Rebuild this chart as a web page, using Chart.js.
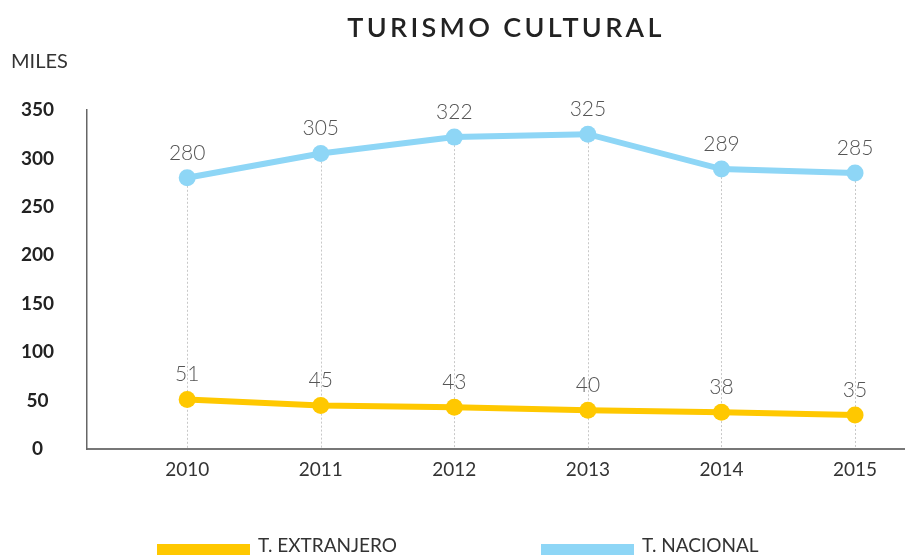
<!DOCTYPE html>
<html>
<head>
<meta charset="utf-8">
<script src="https://cdn.jsdelivr.net/npm/chart.js@4/dist/chart.umd.min.js"></script>
<style>
  html, body { margin: 0; padding: 0; background: #fff; }
  #wrap { width: 905px; height: 556px; position: relative; }
</style>
</head>
<body>
<div id="wrap"><canvas id="turismoChart"></canvas></div>
<script>
const years = [2010, 2011, 2012, 2013, 2014, 2015];
const extranjero = [51, 45, 43, 40, 38, 35];
const nacional = [280, 305, 322, 325, 289, 285];
const yTicks = [0, 50, 100, 150, 200, 250, 300, 350];

const titleText = 'TURISMO CULTURAL';
const unitText = 'MILES';
const seriesNames = ['T. EXTRANJERO', 'T. NACIONAL'];
const yellow = '#FFC800';
const blue = '#8ED6F6';
const FONT = 'Lato, "Open Sans", sans-serif';

// dotted drop lines from the top point of each year down to the axis
const dropLines = {
  id: 'dropLines',
  beforeDatasetsDraw(chart) {
    const ctx = chart.ctx;
    const bottom = chart.chartArea.bottom;
    ctx.save();
    ctx.strokeStyle = '#c8c8c8';
    ctx.lineWidth = 1;
    ctx.setLineDash([2, 2]);
    years.forEach((yr, i) => {
      let top = bottom;
      let x = null;
      chart.data.datasets.forEach((ds, d) => {
        const el = chart.getDatasetMeta(d).data[i];
        if (el) { top = Math.min(top, el.y); x = el.x; }
      });
      if (x === null) return;
      ctx.beginPath();
      ctx.moveTo(Math.round(x) + 0.5, top);
      ctx.lineTo(Math.round(x) + 0.5, bottom);
      ctx.stroke();
    });
    ctx.restore();
  }
};

// value labels above each point
const valueLabels = {
  id: 'valueLabels',
  afterDatasetsDraw(chart) {
    const ctx = chart.ctx;
    ctx.save();
    ctx.font = '300 21px ' + FONT;
    ctx.fillStyle = '#555';
    ctx.textAlign = 'center';
    ctx.textBaseline = 'middle';
    chart.data.datasets.forEach((ds, d) => {
      chart.getDatasetMeta(d).data.forEach((el, i) => {
        ctx.fillText(String(ds.data[i].y), el.x, el.y - 25);
      });
    });
    ctx.restore();
  }
};

// title, unit label and the legend along the bottom
const decorations = {
  id: 'decorations',
  afterDraw(chart) {
    const ctx = chart.ctx;
    ctx.save();
    ctx.fillStyle = '#222';
    ctx.textBaseline = 'middle';
    ctx.font = '600 27px ' + FONT;
    ctx.letterSpacing = '3.3px';
    ctx.textAlign = 'center';
    ctx.fillText(titleText, 506, 28);
    ctx.letterSpacing = '0px';

    ctx.font = '20px ' + FONT;
    ctx.fillStyle = '#333';
    ctx.textAlign = 'left';
    ctx.fillText(unitText, 11, 62);

    const legendX = [157, 541];
    chart.data.datasets.forEach((ds, d) => {
      const x = legendX[d];
      ctx.fillStyle = ds.borderColor;
      ctx.fillRect(x, 544, 93, 11);
      ctx.fillStyle = '#333';
      ctx.font = '19px ' + FONT;
      ctx.fillText(ds.label, x + 101, 546);
    });
    ctx.restore();
  }
};

const chart = new Chart(document.getElementById('turismoChart'), {
  type: 'line',
  data: {
    datasets: [
      {
        label: seriesNames[0],
        data: years.map((yr, i) => ({ x: yr, y: extranjero[i] })),
        borderColor: yellow,
        backgroundColor: yellow,
        borderWidth: 6,
        pointRadius: 8.5,
        pointBorderWidth: 0,
        tension: 0
      },
      {
        label: seriesNames[1],
        data: years.map((yr, i) => ({ x: yr, y: nacional[i] })),
        borderColor: blue,
        backgroundColor: blue,
        borderWidth: 6,
        pointRadius: 8.5,
        pointBorderWidth: 0,
        tension: 0
      }
    ]
  },
  options: {
    responsive: true,
    maintainAspectRatio: false,
    animation: false,
    layout: { autoPadding: false, padding: { top: 110, left: 0, right: 0, bottom: 0 } },
    plugins: {
      legend: { display: false },
      tooltip: { enabled: false }
    },
    scales: {
      x: {
        type: 'linear',
        min: 2009.25,
        max: 2015.374,
        afterBuildTicks: scale => { scale.ticks = years.map(v => ({ value: v })); },
        afterFit: scale => { scale.height = 107; },
        grid: { display: false, drawTicks: false },
        border: { display: true, color: '#777', width: 2 },
        ticks: {
          padding: 9,
          color: '#333',
          font: { family: FONT, size: 19 },
          callback: v => String(v)
        }
      },
      y: {
        min: 0,
        max: 350,
        afterBuildTicks: scale => { scale.ticks = yTicks.map(v => ({ value: v })); },
        afterFit: scale => { scale.width = 87; },
        grid: { display: false, drawTicks: false },
        border: { display: true, color: '#666', width: 1.5 },
        ticks: {
          padding: 33,
          crossAlign: 'center',
          color: '#222',
          font: { family: FONT, size: 19, weight: 'bold' }
        }
      }
    }
  },
  plugins: [dropLines, valueLabels, decorations]
});
</script>
</body>
</html>
